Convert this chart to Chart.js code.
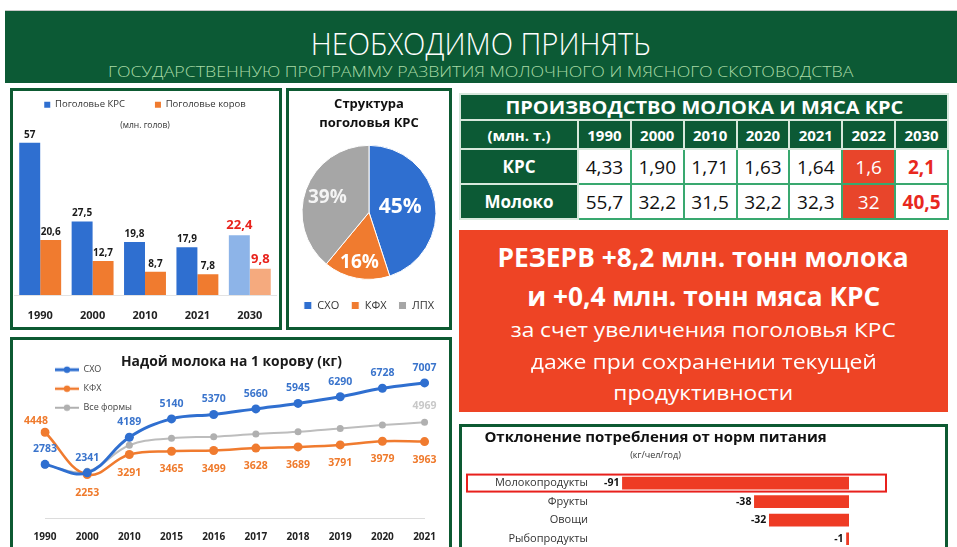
<!DOCTYPE html>
<html>
<head>
<meta charset="utf-8">
<script src="https://cdn.jsdelivr.net/npm/chart.js@4"></script>
<style>
body { margin: 0; width: 957px; height: 547px; overflow: hidden; background: #fff; position: relative; font-family: "Open Sans", sans-serif; }
.fit { display: inline-block; white-space: nowrap; transform-origin: center; }
#banner { position: absolute; left: 5px; top: 10px; width: 952px; height: 72px; background: #0c5a35; border-top: 1px solid #c8c8c8; text-align: center; }
#banner .t1 { position: absolute; left: 0; right: 0; top: 14px; line-height: 36px; font-size: 31px; font-weight: 300; color: #fff; }
#banner .t2 { position: absolute; left: 0; right: 0; top: 50px; line-height: 20px; font-size: 15px; font-weight: 300; color: #a9dba5; }
.frame { position: absolute; border: 3px solid #0d5a32; box-sizing: border-box; }
canvas { position: absolute; }
#prod { position: absolute; left: 459px; top: 93px; width: 490px; border-collapse: collapse; table-layout: fixed; }
#prod th, #prod td { padding: 0; text-align: center; white-space: nowrap; overflow: hidden; }
#prod th { background: #0c5a35; color: #fff; font-weight: bold; border: 2px solid #d7e8dc; }
#prod .ttl { height: 24px; font-size: 18px; line-height: 24px; }
#prod .hd th { height: 27px; font-size: 15px; }
#prod .dt th { height: 33px; font-size: 17px; }
#prod td { background: #fff; color: #111; font-size: 19px; border: 2px solid #39a86f; }
#prod td.c5 { background: #e8452b; color: #fff; }
#prod td.c6 { color: #e8281e; font-weight: bold; }
#reserve { position: absolute; left: 459px; top: 230px; width: 489px; height: 182px; background: #ee4425; color: #fff; }
#reserve div { position: absolute; left: 0; right: 0; text-align: center; }
#reserve .big { font-size: 26px; font-weight: bold; line-height: 36px; }
#reserve .sm { font-size: 20px; line-height: 30px; }
#yieldTitle { position: absolute; left: 10px; width: 442px; top: 350px; line-height: 20px; text-align: center; font-size: 15px; font-weight: bold; color: #1a1a1a; }
</style>
</head>
<body>

<div id="banner">
  <div class="t1"><span class="fit" data-w="340">НЕОБХОДИМО ПРИНЯТЬ</span></div>
  <div class="t2"><span class="fit" data-w="745">ГОСУДАРСТВЕННУЮ ПРОГРАММУ РАЗВИТИЯ МОЛОЧНОГО И МЯСНОГО СКОТОВОДСТВА</span></div>
</div>

<div class="frame" style="left:10px;top:88px;width:272px;height:242px"></div>
<div class="frame" style="left:286px;top:88px;width:166px;height:242px"></div>
<div class="frame" style="left:10px;top:337px;width:442px;height:220px"></div>
<div class="frame" style="left:459px;top:424px;width:489px;height:130px"></div>

<canvas id="herd" width="266" height="236" style="left:13px;top:91px"></canvas>
<canvas id="structure" width="160" height="236" style="left:289px;top:91px"></canvas>
<canvas id="yield" width="436" height="207" style="left:13px;top:340px"></canvas>
<canvas id="gap" width="483" height="140" style="left:462px;top:427px"></canvas>

<div id="yieldTitle"><span class="fit" data-w="221">Надой молока на 1 корову (кг)</span></div>

<table id="prod"></table>

<div id="reserve">
  <div class="big" style="top:9px"><span class="fit" data-w="411">РЕЗЕРВ +8,2 млн. тонн молока</span></div>
  <div class="big" style="top:48px"><span class="fit" data-w="353">и +0,4 млн. тонн мяса КРС</span></div>
  <div class="sm" style="top:85px"><span class="fit" data-w="385">за счет увеличения поголовья КРС</span></div>
  <div class="sm" style="top:117px"><span class="fit" data-w="346">даже при сохранении текущей</span></div>
  <div class="sm" style="top:148px"><span class="fit" data-w="180">продуктивности</span></div>
</div>

<script>
// поголовье (млн. голов)
const herdYears = ['1990', '2000', '2010', '2021', '2030'];
const herdTotal = [57, 27.5, 19.8, 17.9, 22.4];
const herdCows = [20.6, 12.7, 8.7, 7.8, 9.8];

// структура поголовья КРС, %
const structLabels = ['СХО', 'КФХ', 'ЛПХ'];
const structShares = [45, 16, 39];

// надой на 1 корову, кг
const yieldYears = ['1990', '2000', '2010', '2015', '2016', '2017', '2018', '2019', '2020', '2021'];
const yieldSho = [2783, 2341, 4189, 5140, 5370, 5660, 5945, 6290, 6728, 7007];
const yieldKfh = [4448, 2253, 3291, 3465, 3499, 3628, 3689, 3791, 3979, 3963];
const yieldAll = [2731, 2420, 3776, 4134, 4220, 4356, 4476, 4647, 4818, 4969];

// производство, млн. т.
const prodYears = ['1990', '2000', '2010', '2020', '2021', '2022', '2030'];
const prodBeef = ['4,33', '1,90', '1,71', '1,63', '1,64', '1,6', '2,1'];
const prodMilk = ['55,7', '32,2', '31,5', '32,2', '32,3', '32', '40,5'];

// отклонение от норм, кг/чел/год
const foodGroups = ['Молокопродукты', 'Фрукты', 'Овощи', 'Рыбопродукты'];
const foodGap = [-91, -38, -32, -1];

const BLUE = '#2f6fd0', ORANGE = '#f07b2f', GRAY = '#a6a6a6';
const FONT = '"Open Sans", sans-serif';
Chart.defaults.font.family = FONT;
Chart.defaults.animation = false;
Chart.defaults.responsive = false;
Chart.defaults.plugins.tooltip.enabled = false;

// таблица
let rows = '<colgroup><col style="width:118px">' + prodYears.map(() => '<col>').join('') + '</colgroup>';
rows += '<tr><th colspan="8" class="ttl"><span class="fit" data-w="398">ПРОИЗВОДСТВО МОЛОКА И МЯСА КРС</span></th></tr>';
rows += '<tr class="hd"><th>(млн. т.)</th>' + prodYears.map(y => '<th>' + y + '</th>').join('') + '</tr>';
[['КРС', prodBeef], ['Молоко', prodMilk]].forEach(([name, vals]) => {
    rows += '<tr class="dt"><th>' + name + '</th>' + vals.map((v, i) => '<td class="c' + i + '">' + v + '</td>').join('') + '</tr>';
});
document.getElementById('prod').innerHTML = rows;

// подгонка ширины надписей
document.querySelectorAll('.fit').forEach(el => {
    const k = (+el.dataset.w) / el.getBoundingClientRect().width;
    el.style.transform = 'scaleX(' + k.toFixed(3) + ')';
});

// подписи столбцов
const herdLabels = {
    id: 'herdLabels',
    afterDatasetsDraw(chart) {
        const ctx = chart.ctx;
        const last = chart.data.labels.length - 1;
        ctx.save();
        ctx.textAlign = 'center';
        ctx.textBaseline = 'bottom';
        chart.data.datasets.forEach((ds, di) => {
            chart.getDatasetMeta(di).data.forEach((bar, i) => {
                ctx.fillStyle = i === last ? '#e8231c' : '#1a1a1a';
                ctx.font = 'bold ' + (i === last ? 13 : 10) + 'px ' + FONT;
                ctx.fillText(String(ds.data[i]).replace('.', ','), bar.x, bar.y - 3);
            });
        });
        ctx.restore();
    }
};

new Chart(document.getElementById('herd'), {
    type: 'bar',
    data: {
        labels: herdYears,
        datasets: [
            { label: 'Поголовье КРС', data: herdTotal, backgroundColor: c => c.dataIndex === 4 ? '#8db4e8' : BLUE },
            { label: 'Поголовье коров', data: herdCows, backgroundColor: c => c.dataIndex === 4 ? '#f5aa7e' : ORANGE }
        ]
    },
    options: {
        layout: { padding: { left: 1, right: 3, top: -21, bottom: 0 } },
        datasets: { bar: { categoryPercentage: 0.8, barPercentage: 1 } },
        scales: {
            x: {
                grid: { display: false, drawTicks: false }, border: { color: '#e3e3e3' },
                ticks: { padding: 14, color: '#222', font: { size: 11, weight: 'bold' } },
                afterFit: s => { s.height = 32; }
            },
            y: { display: false, min: 0, max: 60 }
        },
        plugins: {
            legend: { weight: 3000, labels: { boxWidth: 6, boxHeight: 6, padding: 30, color: '#333', font: { size: 9.5 } } },
            title: { display: true, text: '(млн. голов)', color: '#333', font: { size: 8.5, weight: 'normal' }, padding: { top: 1, bottom: 4 } }
        }
    },
    plugins: [herdLabels]
});

// подписи долей
const structLabelsPlugin = {
    id: 'structLabels',
    afterDatasetsDraw(chart, args, opts) {
        const ctx = chart.ctx;
        ctx.save();
        ctx.textAlign = 'center';
        ctx.textBaseline = 'middle';
        chart.getDatasetMeta(0).data.forEach((arc, i) => {
            const mid = (arc.startAngle + arc.endAngle) / 2;
            const r = arc.outerRadius * opts.radial[i];
            ctx.fillStyle = opts.colors[i];
            ctx.font = 'bold ' + opts.sizes[i] + 'px ' + FONT;
            ctx.fillText(chart.data.datasets[0].data[i] + '%', arc.x + Math.cos(mid) * r, arc.y + Math.sin(mid) * r);
        });
        ctx.restore();
    }
};

new Chart(document.getElementById('structure'), {
    type: 'pie',
    data: {
        labels: structLabels,
        datasets: [{ data: structShares, backgroundColor: [BLUE, ORANGE, GRAY], borderColor: '#fff', borderWidth: 1 }]
    },
    options: {
        radius: 67,
        layout: { padding: { top: 2, bottom: 6 } },
        plugins: {
            title: { display: true, text: ['Структура', 'поголовья КРС'], color: '#111', font: { size: 13, weight: 'bold', lineHeight: 1.45 }, padding: { top: 2, bottom: 4 } },
            legend: { position: 'bottom', labels: { boxWidth: 8, boxHeight: 8, padding: 12, color: '#333', font: { size: 11 } } },
            structLabels: { radial: [0.47, 0.76, 0.66], sizes: [21, 19, 19], colors: ['#fff', '#fff', '#f4f4f4'] }
        }
    },
    plugins: [structLabelsPlugin]
});

// значок легенды: линия с маркером
function lineMark(color, w) {
    const c = document.createElement('canvas');
    c.width = 24; c.height = 10;
    const g = c.getContext('2d');
    g.strokeStyle = color; g.lineWidth = w;
    g.beginPath(); g.moveTo(0, 5); g.lineTo(24, 5); g.stroke();
    g.fillStyle = color;
    g.beginPath(); g.arc(12, 5, 3.2, 0, Math.PI * 2); g.fill();
    return c;
}

const yieldLabels = {
    id: 'yieldLabels',
    afterDatasetsDraw(chart) {
        const ctx = chart.ctx;
        ctx.save();
        ctx.textAlign = 'center';
        ctx.textBaseline = 'middle';
        ctx.font = 'bold 10.5px ' + FONT;
        chart.data.datasets.forEach((ds, di) => {
            const n = ds.data.length;
            chart.getDatasetMeta(di).data.forEach((pt, i) => {
                let dx = 0, dy;
                if (di === 0) dy = -15;
                else if (di === 1) { dy = i === 0 ? -11 : 18; dx = i === 0 ? -9 : 0; }
                else { if (i !== n - 1) return; dy = -16; }
                ctx.fillStyle = ds.labelColor;
                ctx.fillText(ds.data[i], pt.x + dx, pt.y + dy);
            });
        });
        ctx.restore();
    }
};

new Chart(document.getElementById('yield'), {
    type: 'line',
    data: {
        labels: yieldYears,
        datasets: [
            { label: 'СХО', data: yieldSho, borderColor: BLUE, backgroundColor: BLUE, borderWidth: 3, pointRadius: 4.5, pointBorderWidth: 0, tension: 0.4, labelColor: '#3a74cc', mark: lineMark(BLUE, 3) },
            { label: 'КФХ', data: yieldKfh, borderColor: ORANGE, backgroundColor: ORANGE, borderWidth: 2.5, pointRadius: 4.5, pointBorderWidth: 0, tension: 0.4, labelColor: '#ef7a2c', mark: lineMark(ORANGE, 2.5) },
            { label: 'Все формы', data: yieldAll, borderColor: '#bdbdbd', backgroundColor: '#b0b0b0', borderWidth: 2, pointRadius: 3.5, pointBorderWidth: 0, tension: 0.4, labelColor: '#c8c8c8', mark: lineMark('#b0b0b0', 2) }
        ]
    },
    options: {
        layout: { padding: { left: 32, right: 21, top: 3, bottom: 0 } },
        scales: {
            x: {
                offset: false, grid: { display: false, drawTicks: false }, border: { color: '#dcdcdc' },
                ticks: { padding: 13, color: '#222', font: { size: 10, weight: 'bold' } },
                afterFit: s => { s.height = 29; }
            },
            y: { display: false, min: 0, max: 9000 }
        },
        plugins: {
            legend: {
                position: 'chartArea', align: 'start',
                title: { display: true, text: ' ', font: { size: 1 }, padding: 7 },
                labels: {
                    usePointStyle: true, pointStyleWidth: 24, padding: 10, color: '#444', font: { size: 9 },
                    generateLabels: chart => chart.data.datasets.map((ds, i) => ({
                        text: ds.label, pointStyle: ds.mark, fillStyle: ds.borderColor, strokeStyle: ds.borderColor,
                        lineWidth: 0, fontColor: '#444', datasetIndex: i
                    }))
                }
            }
        }
    },
    plugins: [yieldLabels]
});

// отклонение потребления
const gapPlugin = {
    id: 'gapLabels',
    afterDatasetsDraw(chart) {
        const ctx = chart.ctx;
        const ds = chart.data.datasets[0];
        ctx.save();
        ctx.textAlign = 'right';
        ctx.textBaseline = 'middle';
        ctx.font = 'bold 10.5px ' + FONT;
        ctx.fillStyle = '#111';
        chart.getDatasetMeta(0).data.forEach((bar, i) => {
            ctx.fillText(ds.data[i], bar.x - 3, bar.y);
        });
        // рамка вокруг молокопродуктов
        const y0 = chart.scales.y.getPixelForValue(0);
        ctx.strokeStyle = '#e8201c';
        ctx.lineWidth = 2;
        ctx.strokeRect(5, y0 - 8.5, chart.chartArea.right + 37 - 5, 17);
        ctx.restore();
    }
};

new Chart(document.getElementById('gap'), {
    type: 'bar',
    data: {
        labels: foodGroups,
        datasets: [{ data: foodGap, backgroundColor: '#ee3b24', barThickness: 12 }]
    },
    options: {
        indexAxis: 'y',
        layout: { padding: { left: 0, right: 96, top: 0, bottom: 19 } },
        scales: {
            x: { display: false, min: -100, max: 0 },
            y: {
                grid: { display: false, drawTicks: false }, border: { display: false },
                ticks: { padding: 12, color: '#333', font: { size: 11 } },
                afterFit: s => { s.width = 138; }
            }
        },
        plugins: {
            legend: { display: false },
            title: { display: true, text: 'Отклонение потребления от норм питания', color: '#111', font: { size: 15, weight: 'bold' }, padding: { top: 2, bottom: 1 } },
            subtitle: { display: true, text: '(кг/чел/год)', color: '#333', font: { size: 9 }, padding: { top: 2, bottom: 13 } }
        }
    },
    plugins: [gapPlugin]
});
</script>
</body>
</html>
